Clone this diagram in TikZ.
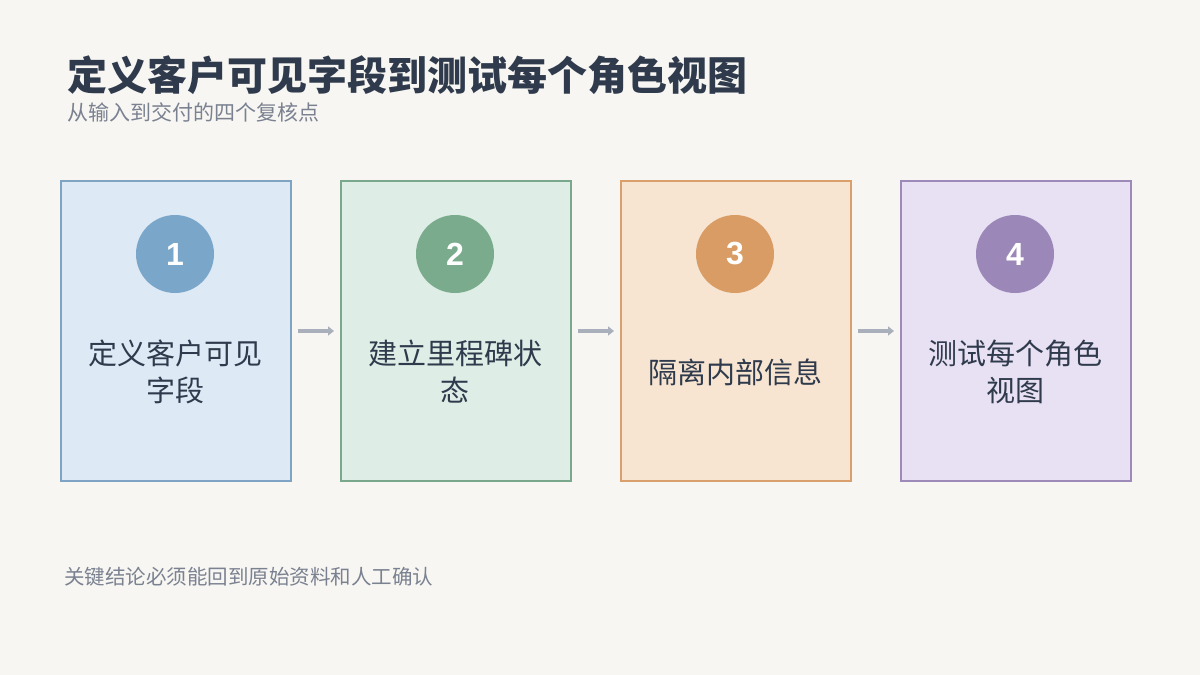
\documentclass[tikz,border=0pt]{standalone}
\usepackage{fontspec}
\setmainfont{Noto Sans CJK SC}
\newfontfamily\numfont{Liberation Sans}
\usetikzlibrary{arrows.meta}
\definecolor{bg}{HTML}{F7F6F2}
\definecolor{ttl}{HTML}{2F3B4C}
\definecolor{sub}{HTML}{7A8190}
\definecolor{arr}{HTML}{A9B0BB}
\definecolor{fA}{HTML}{DDE9F5}\definecolor{bA}{HTML}{7FA3C3}\definecolor{cA}{HTML}{7AA7C9}
\definecolor{fB}{HTML}{DEEEE6}\definecolor{bB}{HTML}{7AA88C}\definecolor{cB}{HTML}{7AAB8C}
\definecolor{fC}{HTML}{F7E5D2}\definecolor{bC}{HTML}{D9A06E}\definecolor{cC}{HTML}{D89C64}
\definecolor{fD}{HTML}{E8E0F3}\definecolor{bD}{HTML}{9D8AB9}\definecolor{cD}{HTML}{9B87B8}
\begin{document}
\begin{tikzpicture}[x=1pt,y=-1pt,
  box/.style={draw, line width=2pt, minimum width=230pt, minimum height=300pt, anchor=north west},
  num/.style={circle, minimum size=78pt, inner sep=0pt, text=white, font=\numfont\fontsize{32}{32}\selectfont\bfseries},
  lbl/.style={text=ttl, align=center, font=\fontsize{29}{37}\selectfont},
  arw/.style={draw=arr, line width=3.5pt, -{Triangle[length=6pt,width=9pt]}}]
\fill[bg] (0,0) rectangle (1200,675);
\useasboundingbox (0,0) rectangle (1200,675);
\node[anchor=base west, text=ttl, inner sep=0pt, font=\fontsize{40}{40}\selectfont\bfseries] (title) at (67,90) {定义客户可见字段到测试每个角色视图};
\node[anchor=base west, text=sub, inner sep=0pt, font=\fontsize{21}{21}\selectfont] (subtitle) at (67,120) {从输入到交付的四个复核点};
\foreach \i/\x/\L/\t in {1/60/A/{定义客户可见\\字段},2/340/B/{建立里程碑状\\态},3/620/C/{隔离内部信息},4/900/D/{测试每个角色\\视图}}{
  \node[box, draw=b\L, fill=f\L] (box\i) at (\x,180) {};
  \node[num, fill=c\L] (n\i) at (\x+115,254) {\i};
  \node[lbl] (t\i) at (\x+115,372) {\t};
}
\draw[arw] (box1.east) ++(6,0) coordinate (a1) -- ++(36,0) coordinate (a1e);
\draw[arw] (box2.east) ++(6,0) coordinate (a2) -- ++(36,0) coordinate (a2e);
\draw[arw] (box3.east) ++(6,0) coordinate (a3) -- ++(36,0) coordinate (a3e);
\node[anchor=base west, text=sub, inner sep=0pt, font=\fontsize{20.5}{20.5}\selectfont] (foot) at (64,584) {关键结论必须能回到原始资料和人工确认};
\end{tikzpicture}
\end{document}
